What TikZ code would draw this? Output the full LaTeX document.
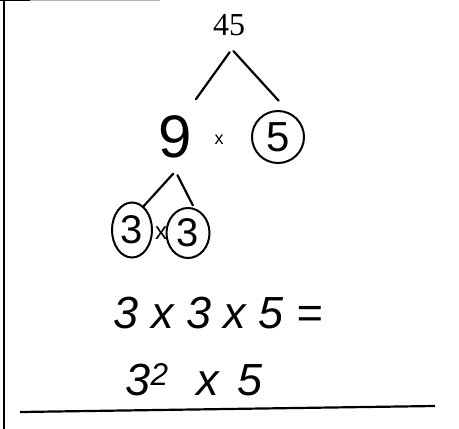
\documentclass[tikz,border=0pt]{standalone}
\usepackage{fontspec}
\setmainfont{Liberation Serif}
\newfontfamily\handfont{Liberation Sans}
\usetikzlibrary{shapes.geometric}

\begin{document}
\begin{tikzpicture}[x=1pt, y=1pt,
  num/.style={font=\fontsize{32}{36}\selectfont},
  hand/.style={font=\handfont\fontsize{#1}{#1}\selectfont},
  slanted/.style={font=\handfont\itshape\fontsize{#1}{#1}\selectfont},
  ring/.style={draw, circle, line width=2pt, minimum size=52pt, inner sep=0pt},
  oval/.style={draw, ellipse, line width=2pt, inner sep=0pt},
  branch/.style={line width=2.2pt, line cap=round},
  rule/.style={line width=2.2pt}
]
\useasboundingbox (0,0) rectangle (459,-429);
% page edges
\draw[rule] (4,0) -- (4,-429);
\draw[line width=1.5pt, black!30] (0,-0.5) -- (160,-0.5);
\draw[line width=1.5pt] (0,-0.5) -- (30,-0.5);
\draw[rule] (20,-412) -- (435,-406);
% factor tree
\node[num] (n45) at (229,-25) {45};
\node[hand=60] (n9) at (175,-137) {9};
\node[hand=18] (times1) at (219,-140) {x};
\node[ring, hand=42] (n5) at (278,-137) {5};
\node[oval, hand=40, minimum width=40pt, minimum height=55pt] (n3a) at (132,-230) {3};
\node[hand=24] (times2) at (161,-233) {x};
\node[oval, hand=40, minimum width=43pt, minimum height=50pt] (n3b) at (188,-233) {3};
\draw[branch, shorten <=16pt, shorten >=16pt] (n45.-55) -- (n9.65);
\draw[branch, shorten <=16pt, shorten >=16pt] (n45.-114) -- (n5.65);
\draw[branch, shorten <=16pt] (n9.-70) -- (n3a.64);
\draw[branch, shorten <=15pt, shorten >=3pt] (n9.-100) -- (n3b.76);
% result
\node[slanted=45, anchor=base west] (prod) at (110,-328) {3 x 3 x 5 =};
\node[slanted=45, anchor=base west] (power) at (122,-395)
  {3\textsuperscript{2}\hspace{28pt}x\hspace{18pt}5};
\end{tikzpicture}
\end{document}
